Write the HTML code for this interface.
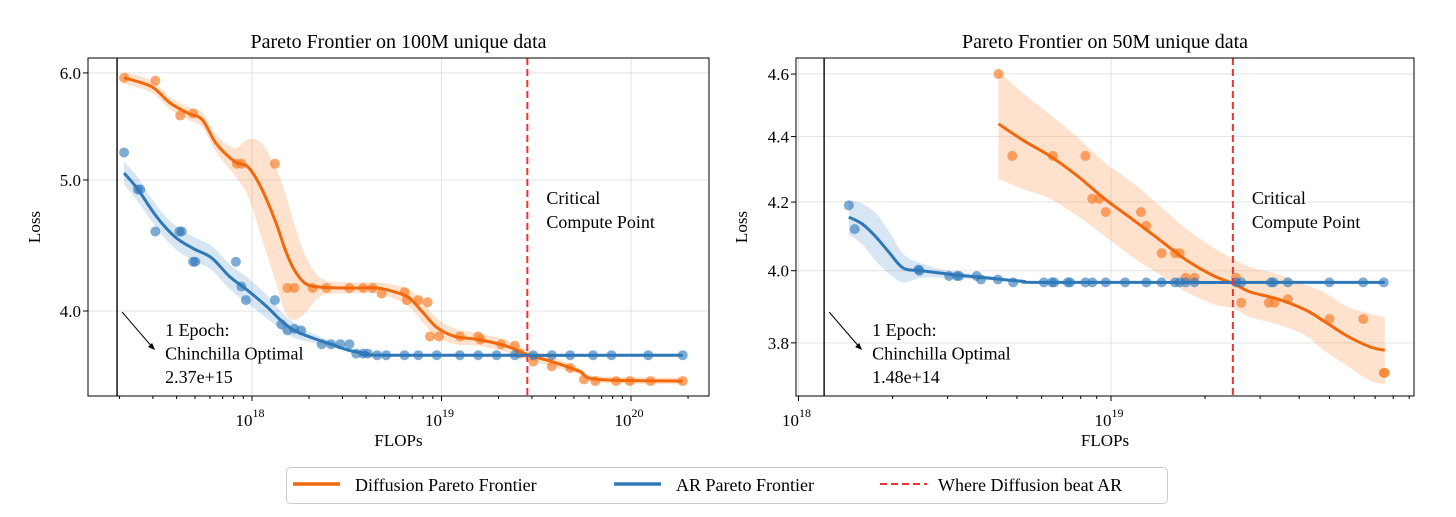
<!DOCTYPE html>
<html><head><meta charset="utf-8"><style>
body{margin:0;background:#fff;}
svg{display:block;font-family:"Liberation Serif",serif;}
</style></head><body>
<svg id="chart" width="1456" height="517" viewBox="0 0 1456 517"></svg>
<script>
// ---------- Data (log10 FLOPs, Loss) ----------
// Left panel: 100M unique data
const leftDiffPtsX=[17.325,17.49,17.621,17.689,17.920,17.944,18.121,18.187,18.223,18.320,18.393,18.514,18.587,18.636,18.684,18.805,18.817,18.878,18.927,18.939,18.987,19.097,19.194,19.206,19.315,19.387,19.412,19.484,19.582,19.679,19.752,19.812,19.921,19.994,20.103,20.273];
const leftDiffPtsY=[5.95,5.92,5.58,5.60,5.14,5.14,5.14,4.16,4.16,4.16,4.16,4.16,4.16,4.16,4.12,4.13,4.075,4.075,4.06,3.83,3.83,3.83,3.83,3.81,3.78,3.77,3.72,3.67,3.64,3.63,3.56,3.55,3.55,3.55,3.55,3.55];
const leftDiffCurveX=[17.325,17.471,17.568,17.665,17.738,17.811,17.908,17.980,18.053,18.126,18.175,18.223,18.284,18.368,18.514,18.66,18.757,18.830,18.902,18.975,19.072,19.194,19.339,19.460,19.582,19.727,19.824,20.273];
const leftDiffCurveY=[5.95,5.86,5.70,5.60,5.54,5.32,5.16,5.11,4.92,4.65,4.44,4.29,4.19,4.165,4.16,4.16,4.13,4.09,3.99,3.89,3.83,3.81,3.77,3.71,3.67,3.61,3.56,3.55];
const leftDiffBand=[0.06,0.06,0.06,0.06,0.07,0.08,0.12,0.25,0.40,0.45,0.45,0.35,0.2,0.06,0.04,0.04,0.05,0.06,0.07,0.06,0.05,0.04,0.04,0.03,0.03,0.02,0.02,0.02];
const leftArPtsX=[17.325,17.398,17.41,17.49,17.617,17.629,17.689,17.701,17.915,17.944,17.968,18.121,18.155,18.187,18.223,18.259,18.368,18.417,18.466,18.514,18.55,18.587,18.611,18.66,18.708,18.805,18.878,18.975,19.097,19.194,19.291,19.387,19.484,19.582,19.679,19.8,19.897,20.091,20.273];
const leftArPtsY=[5.24,4.92,4.92,4.58,4.58,4.58,4.35,4.35,4.35,4.17,4.075,4.075,3.91,3.87,3.88,3.87,3.78,3.78,3.78,3.78,3.72,3.72,3.72,3.71,3.71,3.71,3.71,3.71,3.71,3.71,3.71,3.71,3.71,3.71,3.71,3.71,3.71,3.71,3.71];
const leftArCurveX=[17.325,17.398,17.495,17.592,17.689,17.786,17.883,17.98,18.078,18.150,18.223,18.320,18.417,18.514,18.611,18.732,20.273];
const leftArCurveY=[5.06,4.92,4.70,4.54,4.45,4.38,4.24,4.14,4.03,3.94,3.87,3.82,3.78,3.74,3.72,3.71,3.71];
const leftArBand=[0.10,0.10,0.09,0.09,0.09,0.09,0.09,0.09,0.08,0.06,0.05,0.03,0.02,0.01,0.01,0.01,0.01];
const leftCritical=19.453, leftEpoch=17.288;
// Right panel: 50M unique data
const rightDiffPtsX=[18.64,18.684,18.814,18.918,18.940,18.962,18.983,19.096,19.113,19.162,19.205,19.22,19.239,19.267,19.40,19.417,19.505,19.523,19.566,19.699,19.807,19.873,19.876];
const rightDiffPtsY=[4.60,4.34,4.34,4.34,4.21,4.21,4.17,4.17,4.13,4.05,4.05,4.05,3.98,3.98,3.98,3.91,3.91,3.91,3.92,3.865,3.865,3.72,3.72];
const rightDiffCurveX=[18.64,18.716,18.804,18.891,18.979,19.067,19.154,19.242,19.33,19.388,19.446,19.534,19.622,19.68,19.753,19.827,19.876];
const rightDiffCurveY=[4.44,4.39,4.34,4.28,4.21,4.15,4.09,4.03,3.985,3.965,3.94,3.92,3.89,3.86,3.82,3.79,3.78];
const rightDiffBand=[0.17,0.15,0.13,0.12,0.11,0.11,0.10,0.09,0.08,0.07,0.07,0.07,0.07,0.08,0.08,0.09,0.09];
const rightArPtsX=[18.161,18.18,18.384,18.387,18.482,18.507,18.514,18.57,18.584,18.638,18.687,18.785,18.811,18.818,18.862,18.869,18.918,18.940,18.983,19.045,19.113,19.162,19.205,19.22,19.239,19.267,19.40,19.417,19.512,19.52,19.566,19.699,19.807,19.873];
const rightArPtsY=[4.19,4.12,4.003,4.0,3.985,3.985,3.985,3.985,3.975,3.975,3.967,3.967,3.967,3.967,3.967,3.967,3.967,3.967,3.967,3.967,3.967,3.967,3.967,3.967,3.967,3.967,3.967,3.967,3.967,3.967,3.967,3.967,3.967,3.967];
const rightArCurveX=[18.161,18.204,18.248,18.292,18.336,18.395,18.482,18.599,18.716,18.833,19.876];
const rightArCurveY=[4.155,4.135,4.097,4.05,4.007,4.0,3.99,3.98,3.97,3.967,3.967];
const rightArBand=[0.05,0.06,0.07,0.06,0.04,0.02,0.01,0.006,0.004,0.003,0.003];
const rightCritical=19.39, rightEpoch=18.082;
const leftYTicks=[4.0,5.0,6.0], rightYTicks=[3.8,4.0,4.2,4.4,4.6];

const NS="http://www.w3.org/2000/svg";
const svg=document.getElementById('chart');
function mk(tag,attrs,parent){const e=document.createElementNS(NS,tag);for(const k in attrs)e.setAttribute(k,attrs[k]);(parent||svg).appendChild(e);return e;}
function smooth(pts){
  if(pts.length<2)return '';
  let d='M'+pts[0][0].toFixed(1)+','+pts[0][1].toFixed(1);
  for(let i=0;i<pts.length-1;i++){
    const p0=pts[i-1]||pts[i],p1=pts[i],p2=pts[i+1],p3=pts[i+2]||p2;
    const c1=[p1[0]+(p2[0]-p0[0])/6,p1[1]+(p2[1]-p0[1])/6];
    const c2=[p2[0]-(p3[0]-p1[0])/6,p2[1]-(p3[1]-p1[1])/6];
    d+=' C'+c1[0].toFixed(1)+','+c1[1].toFixed(1)+' '+c2[0].toFixed(1)+','+c2[1].toFixed(1)+' '+p2[0].toFixed(1)+','+p2[1].toFixed(1);
  }
  return d;
}
function panel(cfg){
  const g=mk('g',{});
  
  
  const X=v=>cfg.x0+(v-cfg.lx0)*cfg.dec;
  const Y=v=>cfg.y4-(Math.log10(v)-Math.log10(4))*cfg.ky;
  // grid
  cfg.yTicks.forEach(t=>{const l=mk('line',{x1:cfg.L,x2:cfg.R,y1:Y(t),y2:Y(t),stroke:'#e3e3e3','stroke-width':1},g);
    });
  cfg.decades.forEach(d=>{const l=mk('line',{x1:X(d),x2:X(d),y1:cfg.T,y2:cfg.B,stroke:'#e3e3e3','stroke-width':1},g);
    });
  const clip=mk('clipPath',{id:cfg.name+'-clip'},g);mk('rect',{x:cfg.L,y:cfg.T,width:cfg.R-cfg.L,height:cfg.B-cfg.T},clip);
  const pg=mk('g',{'clip-path':'url(#'+cfg.name+'-clip)'},g);
  function series(ptsX,ptsY,cx,cy,band,line,ptc,bandc,nm){
    const up=cx.map((x,i)=>[X(x),Y(cy[i]+band[i])]);
    const lo=cx.map((x,i)=>[X(x),Y(cy[i]-band[i])]).reverse();
    const b=mk('path',{d:smooth(up)+' L'+lo[0][0]+','+lo[0][1]+smooth(lo).replace(/^M[^C]*/,' ')+' Z',fill:bandc,stroke:'none'},pg);
    
    ptsX.forEach((x,i)=>{const c=mk('circle',{cx:X(x),cy:Y(ptsY[i]),r:5,fill:ptc},pg);
      });
    const p=mk('path',{d:smooth(cx.map((x,i)=>[X(x),Y(cy[i])])),fill:'none',stroke:line,'stroke-width':3},pg);
    
  }
  series(cfg.dpx,cfg.dpy,cfg.dcx,cfg.dcy,cfg.dband,'#f2680c','rgba(248,128,45,0.7)','rgba(255,150,80,0.28)','diffusion');
  series(cfg.apx,cfg.apy,cfg.acx,cfg.acy,cfg.aband,'#2f78b8','rgba(45,120,185,0.62)','rgba(60,130,200,0.2)','ar');
  const cl=mk('line',{x1:X(cfg.crit),x2:X(cfg.crit),y1:cfg.T,y2:cfg.B,stroke:'#ee3333','stroke-width':2,'stroke-dasharray':'7,4'},g);
  
  const el=mk('line',{x1:X(cfg.epoch),x2:X(cfg.epoch),y1:cfg.T,y2:cfg.B,stroke:'#222','stroke-width':1.6},g);
  
  // frame
  const fr=mk('rect',{x:cfg.L,y:cfg.T,width:cfg.R-cfg.L,height:cfg.B-cfg.T,fill:'none',stroke:'#000','stroke-width':1},g);
  
  // y ticks
  cfg.yTicks.forEach(t=>{mk('line',{x1:cfg.L-5,x2:cfg.L,y1:Y(t),y2:Y(t),stroke:'#000'},g);
    const tx=mk('text',{x:cfg.L-7,y:Y(t)+6,'text-anchor':'end','font-size':17},g);tx.textContent=t.toFixed(1);
    });
  // x ticks
  for(let d=Math.floor(cfg.lx0)-1;d<=21;d++){for(let m=1;m<10;m++){const v=d+Math.log10(m);const px=X(v);
    if(px<cfg.L-0.5||px>cfg.R+0.5)continue;mk('line',{x1:px,x2:px,y1:cfg.B,y2:cfg.B+(m==1?5:3),stroke:'#000'},g);}}
  cfg.decades.forEach(d=>{const tx=mk('text',{x:X(d)-2,y:cfg.B+30,'text-anchor':'middle','font-size':17},g);
    tx.textContent='10';const s=mk('tspan',{dy:-9,'font-size':12},tx);s.textContent=String(d);
    });
  const tt=mk('text',{x:(cfg.L+cfg.R)/2,y:48,'text-anchor':'middle','font-size':20},g);tt.textContent=cfg.title;
  
  const xl=mk('text',{x:(cfg.L+cfg.R)/2,y:446,'text-anchor':'middle','font-size':17},g);xl.textContent='FLOPs';
  
  const yl=mk('text',{x:0,y:0,'text-anchor':'middle','font-size':17,transform:'translate('+cfg.ylx+',227) rotate(-90)'},g);yl.textContent='Loss';
  
  const cc=mk('text',{x:X(cfg.crit)+19,y:204,'font-size':18},g);
  
  const c1=mk('tspan',{x:X(cfg.crit)+19},cc);c1.textContent='Critical';
  const c2=mk('tspan',{x:X(cfg.crit)+19,dy:24},cc);c2.textContent='Compute Point';
  const ex=X(cfg.epoch);
  const ar=mk('line',{x1:ex+5,y1:312,x2:ex+36,y2:348,stroke:'#000','stroke-width':1},g);
  
  mk('path',{d:`M${ex+38},${350} l-7,-3 l4,-4 z`,fill:'#000'},g);
  const et=mk('text',{x:ex+48,y:336,'font-size':18},g);
  
  ['1 Epoch:','Chinchilla Optimal',cfg.epochVal].forEach((s,i)=>{const t=mk('tspan',{x:ex+48,dy:i?23.5:0},et);t.textContent=s;});
}
panel({name:'left-panel',L:88,R:709,T:58,B:396,x0:252,lx0:18,dec:189.5,y4:311,ky:1352,yTicks:leftYTicks,decades:[18,19,20],
  dpx:leftDiffPtsX,dpy:leftDiffPtsY,dcx:leftDiffCurveX,dcy:leftDiffCurveY,dband:leftDiffBand,
  apx:leftArPtsX,apy:leftArPtsY,acx:leftArCurveX,acy:leftArCurveY,aband:leftArBand,
  crit:leftCritical,epoch:leftEpoch,epochVal:'2.37e+15',title:'Pareto Frontier on 100M unique data',ylx:40});
panel({name:'right-panel',L:796,R:1414,T:58,B:396,x0:798.5,lx0:18,dec:312.5,y4:270.7,ky:3240,yTicks:rightYTicks,decades:[18,19],
  dpx:rightDiffPtsX,dpy:rightDiffPtsY,dcx:rightDiffCurveX,dcy:rightDiffCurveY,dband:rightDiffBand,
  apx:rightArPtsX,apy:rightArPtsY,acx:rightArCurveX,acy:rightArCurveY,aband:rightArBand,
  crit:rightCritical,epoch:rightEpoch,epochVal:'1.48e+14',title:'Pareto Frontier on 50M unique data',ylx:747});
// legend
const lg=mk('g',{});


mk('rect',{x:286.5,y:467.5,width:881,height:36,rx:4,fill:'#fff',stroke:'#cccccc'},lg);
[['#f2680c',293,'Diffusion Pareto Frontier',355,'legend-entry-diffusion',''],['#2f78b8',614,'AR Pareto Frontier',676,'legend-entry-ar',''],['#ee3333',880,'Where Diffusion beat AR',938,'legend-entry-critical','7,4']].forEach(e=>{
  const gg=mk('g',{},lg);
  
  
  mk('line',{x1:e[1],x2:e[1]+47,y1:484,y2:484,stroke:e[0],'stroke-width':e[5]?2:3.5,'stroke-dasharray':e[5]||'none'},gg);
  const t=mk('text',{x:e[3],y:491,'font-size':18},gg);t.textContent=e[2];
});
</script>
</body></html>
